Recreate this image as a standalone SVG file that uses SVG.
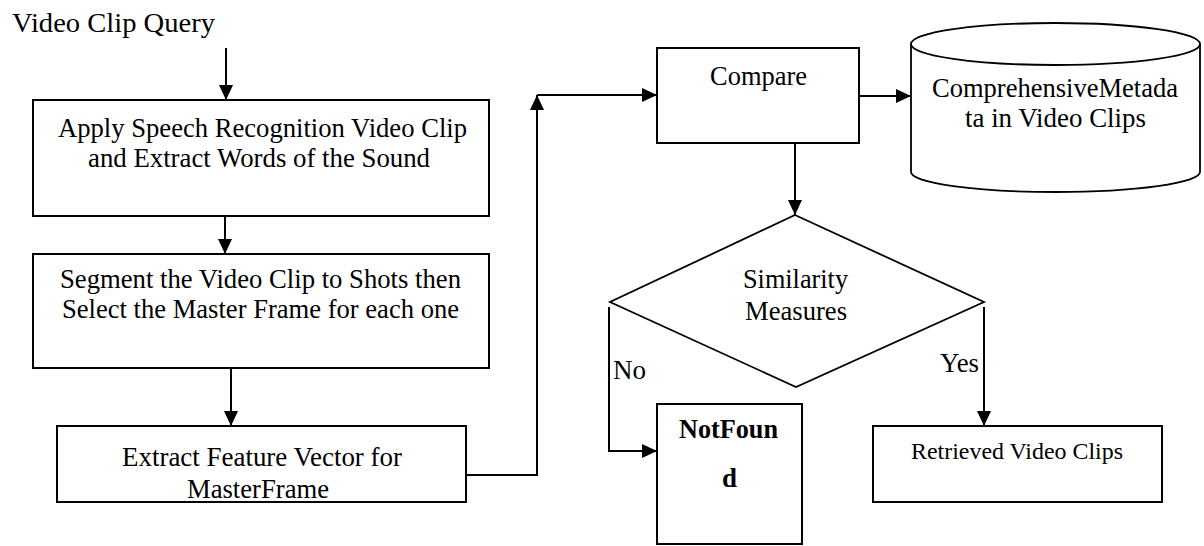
<svg xmlns="http://www.w3.org/2000/svg" width="1204" height="546" viewBox="0 0 1204 546">
  <style>
    .box { fill: #fff; stroke: #000; stroke-width: 2; }
    .shape { fill: #fff; stroke: #000; stroke-width: 1.8; }
    .t { font-family: "Liberation Serif", "Times New Roman", serif; font-size: 27px; fill: #000; }
    .b { font-weight: bold; }
    .s { font-size: 23px; }
    .c { fill: none; stroke: #000; stroke-width: 2; }
  </style>
  <defs>
    <marker id="arr" markerUnits="userSpaceOnUse" markerWidth="16" markerHeight="15" refX="15" refY="7" orient="auto">
      <path d="M0,0 L15,7 L0,14 z" fill="#000"/>
    </marker>
  </defs>
  <rect width="1204" height="546" fill="#fff"/>

  <g id="query">
    <text class="t" x="12" y="32" textLength="203" lengthAdjust="spacingAndGlyphs">Video Clip Query</text>
  </g>

  <g id="speech">
    <rect class="box" x="33" y="100" width="456" height="116"/>
    <text class="t" x="58" y="137" textLength="409" lengthAdjust="spacingAndGlyphs">Apply Speech Recognition Video Clip</text>
    <text class="t" x="88" y="167" textLength="342" lengthAdjust="spacingAndGlyphs">and Extract Words of the Sound</text>
  </g>

  <g id="segment">
    <rect class="box" x="33" y="254" width="456" height="114"/>
    <text class="t" x="60" y="288" textLength="401" lengthAdjust="spacingAndGlyphs">Segment the Video Clip to Shots then</text>
    <text class="t" x="62" y="318" textLength="397" lengthAdjust="spacingAndGlyphs">Select the Master Frame for each one</text>
  </g>

  <g id="feature">
    <rect class="box" x="57" y="426" width="409" height="76"/>
    <text class="t" x="122" y="466" textLength="280" lengthAdjust="spacingAndGlyphs">Extract Feature Vector for</text>
    <text class="t" x="187" y="498" textLength="142" lengthAdjust="spacingAndGlyphs">MasterFrame</text>
  </g>

  <g id="compare">
    <rect class="box" x="657" y="48" width="202" height="95"/>
    <text class="t" x="710" y="85" textLength="97" lengthAdjust="spacingAndGlyphs">Compare</text>
  </g>

  <g id="metadata">
    <path class="shape" d="M911,44 L911,172 A144.5,20 0 0 0 1200,172 L1200,44"/>
    <ellipse class="shape" cx="1055.5" cy="44" rx="144.5" ry="21"/>
    <text class="t" x="932" y="97" textLength="246" lengthAdjust="spacingAndGlyphs">ComprehensiveMetada</text>
    <text class="t" x="965" y="127" textLength="181" lengthAdjust="spacingAndGlyphs">ta in Video Clips</text>
  </g>

  <g id="similarity">
    <polygon class="shape" points="795,215 984,302 796,387 610,302"/>
    <text class="t" x="743" y="288" textLength="105" lengthAdjust="spacingAndGlyphs">Similarity</text>
    <text class="t" x="745" y="320" textLength="102" lengthAdjust="spacingAndGlyphs">Measures</text>
  </g>

  <g id="notfound">
    <rect class="box" x="657" y="404" width="145" height="140"/>
    <text class="t b" x="679" y="438" textLength="99" lengthAdjust="spacingAndGlyphs">NotFoun</text>
    <text class="t b" x="722" y="487" textLength="15" lengthAdjust="spacingAndGlyphs">d</text>
  </g>

  <g id="retrieved">
    <rect class="box" x="873" y="426" width="289" height="76"/>
    <text class="t s" x="911" y="459" textLength="212" lengthAdjust="spacingAndGlyphs">Retrieved Video Clips</text>
  </g>

  <g id="connectors">
    <path class="c" d="M226,48 L226,100" marker-end="url(#arr)"/>
    <path class="c" d="M225,216 L225,254" marker-end="url(#arr)"/>
    <path class="c" d="M231,368 L231,426" marker-end="url(#arr)"/>
    <path class="c" d="M466,475 L537,475 L537,95" marker-end="url(#arr)"/>
    <path class="c" d="M537,95 L657,95" marker-end="url(#arr)"/>
    <path class="c" d="M859,96 L911,96" marker-end="url(#arr)"/>
    <path class="c" d="M795,143 L795,215" marker-end="url(#arr)"/>
    <path class="c" d="M609,307 L609,451 L657,451" marker-end="url(#arr)"/>
    <path class="c" d="M984,307 L984,426" marker-end="url(#arr)"/>
    <text class="t" x="613" y="379" textLength="33" lengthAdjust="spacingAndGlyphs">No</text>
    <text class="t" x="940" y="372" textLength="39" lengthAdjust="spacingAndGlyphs">Yes</text>
  </g>
</svg>
